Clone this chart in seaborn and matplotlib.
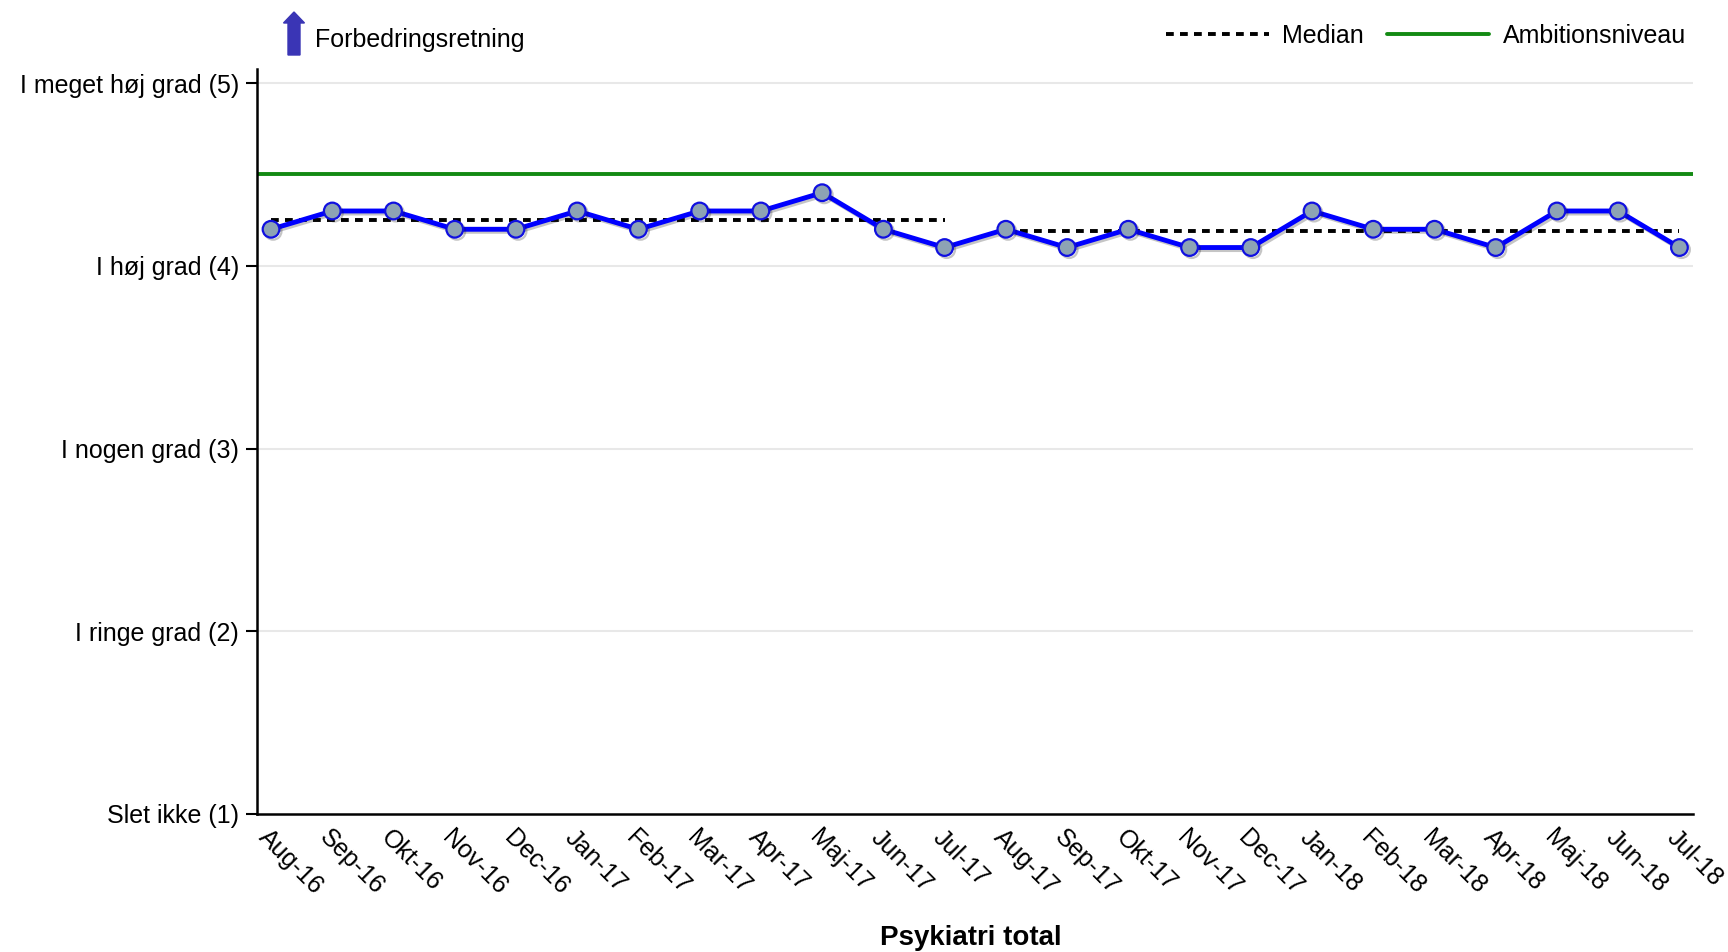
import matplotlib
matplotlib.use("Agg")
import matplotlib.pyplot as plt
import matplotlib.patheffects as pe
from matplotlib.patches import FancyArrow
import numpy as np
import pandas as pd
import seaborn as sns

# data
months = ["Aug-16", "Sep-16", "Okt-16", "Nov-16", "Dec-16", "Jan-17",
          "Feb-17", "Mar-17", "Apr-17", "Maj-17", "Jun-17", "Jul-17",
          "Aug-17", "Sep-17", "Okt-17", "Nov-17", "Dec-17", "Jan-18",
          "Feb-18", "Mar-18", "Apr-18", "Maj-18", "Jun-18", "Jul-18"]
scores = [4.2, 4.3, 4.3, 4.2, 4.2, 4.3, 4.2, 4.3, 4.3, 4.4, 4.2, 4.1,
          4.2, 4.1, 4.2, 4.1, 4.1, 4.3, 4.2, 4.2, 4.1, 4.3, 4.3, 4.1]
period_1 = months[:12]
period_2 = months[12:]
median_1 = 4.25
median_2 = 4.19
ambition = 4.5
y_ticks = [1, 2, 3, 4, 5]
y_labels = ["Slet ikke (1)", "I ringe grad (2)", "I nogen grad (3)",
            "I høj grad (4)", "I meget høj grad (5)"]

df = pd.DataFrame({"x": np.arange(len(months)), "month": months, "score": scores})

sns.set_theme(style="white")
plt.rcParams["font.family"] = ["Liberation Sans", "DejaVu Sans"]
plt.rcParams["text.color"] = "black"
plt.rcParams["xtick.color"] = "black"
plt.rcParams["ytick.color"] = "black"
plt.rcParams["axes.labelcolor"] = "black"

fig, ax = plt.subplots(figsize=(17.28, 9.52), dpi=100)
fig.subplots_adjust(left=0.1487, right=0.9797, top=0.9275, bottom=0.145)

# grid
for yv in y_ticks[1:]:
    ax.axhline(yv, color="#e8e8e8", lw=1.5, zorder=0)

# ambition level
ax.axhline(ambition, color="#138a13", lw=2.8, zorder=2, label="Ambitionsniveau")

# medians per period
dot = (0, (2.0, 1.6))
for period, med, lab in [(period_1, median_1, "Median"), (period_2, median_2, None)]:
    px = df.loc[df["month"].isin(period), "x"]
    ax.plot(px, [med] * len(px), color="black", lw=2.8, linestyle=dot,
            zorder=3, label=lab)

# main series
sns.lineplot(data=df, x="x", y="score", ax=ax, color="#0000ff", lw=3.5,
             marker="o", markersize=12, markerfacecolor="#8da3b4",
             markeredgecolor="#1010e0", markeredgewidth=1.6, zorder=4,
             path_effects=[pe.SimpleLineShadow(offset=(1.5, -1.5), alpha=0.25),
                           pe.Normal()])

ax.set_xlim(-0.23, len(months) - 1 + 0.22)
ax.set_ylim(1, 5.077)
ax.set_yticks(y_ticks)
ax.set_yticklabels(y_labels, fontsize=18)
ax.set_xticks(df["x"])
ax.set_xticklabels(months, fontsize=18, rotation=-45, ha="left", va="top",
                   rotation_mode="anchor")
ax.tick_params(axis="x", length=0, pad=8)
ax.tick_params(axis="y", length=8, width=1.5, color="black", pad=5, left=True)
ax.set_ylabel("")
ax.set_xlabel("Psykiatri total", fontsize=20, fontweight="bold")
ax.xaxis.set_label_coords(0.497, -0.167)
ax.xaxis.label.set_va("center")

for s in ["top", "right"]:
    ax.spines[s].set_visible(False)
for s in ["left", "bottom"]:
    ax.spines[s].set_color("black")
    ax.spines[s].set_linewidth(1.8)

# legend
handles, labels = ax.get_legend_handles_labels()
order = [labels.index("Median"), labels.index("Ambitionsniveau")]
ax.legend([handles[i] for i in order], [labels[i] for i in order],
          loc="center right", bbox_to_anchor=(1686 / 1728, 1 - 36 / 952),
          bbox_transform=fig.transFigure, ncol=2, frameon=False, fontsize=18,
          handlelength=4.1, handletextpad=0.55, columnspacing=0.9,
          borderpad=0, borderaxespad=0)

# improvement direction marker
arrow = FancyArrow(2.94, 8.97, 0, 0.43, width=0.12, head_width=0.21,
                   head_length=0.11, length_includes_head=True,
                   color="#3a35b5", transform=fig.dpi_scale_trans)
fig.add_artist(arrow)
fig.text(315 / 1728, 1 - 40 / 952, "Forbedringsretning", fontsize=18,
         va="center", ha="left")

fig.savefig("out.png", dpi=100)
